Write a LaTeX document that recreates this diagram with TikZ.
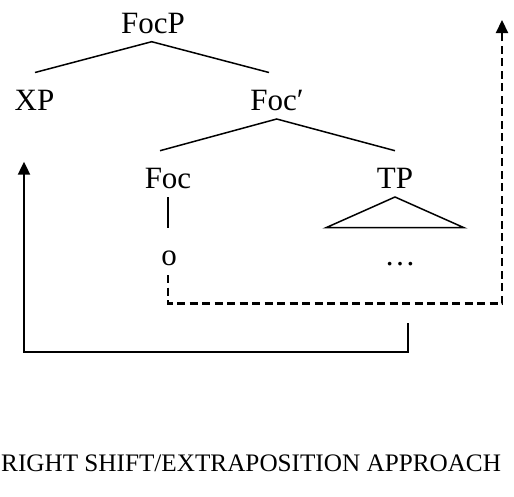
\documentclass[tikz,border=0pt]{standalone}
\usepackage{fontspec}
\setmainfont{Liberation Serif}
\usetikzlibrary{arrows.meta}
\begin{document}
\begin{tikzpicture}[x=1pt,y=-1pt,
  lab/.style={anchor=base,inner sep=0pt,font=\fontsize{31}{31}\selectfont},
  captext/.style={anchor=base west,inner sep=0pt,font=\fontsize{25.2}{25.2}\selectfont},
  branch/.style={line width=1.5pt},
  mover/.style={line width=2.2pt,-{Triangle[length=13pt,width=12pt]}},
  dashmove/.style={mover,dash pattern=on 8pt off 4.5pt}]
\useasboundingbox (0,0) rectangle (514,496);
% labels
\node[lab] (focp) at (153,33) {FocP};
\node[lab] (xp) at (34.5,110) {XP};
\node[lab] (focbar) at (277,110) {Foc′};
\node[lab] (foc) at (168,188) {Foc};
\node[lab] (tp) at (395,188) {TP};
\node[lab] (o) at (169,265) {o};
\node[lab] (dots) at (400,265) {\dots};
\node[captext] (caption) at (1,471) {RIGHT SHIFT/EXTRAPOSITION APPROACH};
% branch points
\coordinate (a1) at (151.7,41.7);
\coordinate (a1l) at (35,72.5);
\coordinate (a1r) at (269,72.5);
\coordinate (a2) at (276.7,119);
\coordinate (a2l) at (160,150.7);
\coordinate (a2r) at (395,150.7);
\coordinate (f1) at (168,197);
\coordinate (f2) at (168,228);
\coordinate (t1) at (395,197);
\coordinate (t2) at (326,227.7);
\coordinate (t3) at (464,227.7);
\draw[branch] (a1l) -- (a1) -- (a1r);
\draw[branch] (a2l) -- (a2) -- (a2r);
\draw[branch] (f1) -- (f2);
\draw[branch] (t2) -- (t1) -- (t3) -- cycle;
% movement arrows
\coordinate (s0) at (408,323);
\coordinate (s1) at (408,352);
\coordinate (s2) at (24,352);
\coordinate (s3) at (24,161.7);
\draw[mover] (s0) -- (s1) -- (s2) -- (s3);
\coordinate (d0) at (168,275);
\coordinate (d1) at (168,303.5);
\coordinate (d2) at (502,303.5);
\coordinate (d3) at (502,20);
\draw[dashmove] (d0) -- (d1) -- (d2) -- (d3);
\end{tikzpicture}
\end{document}
